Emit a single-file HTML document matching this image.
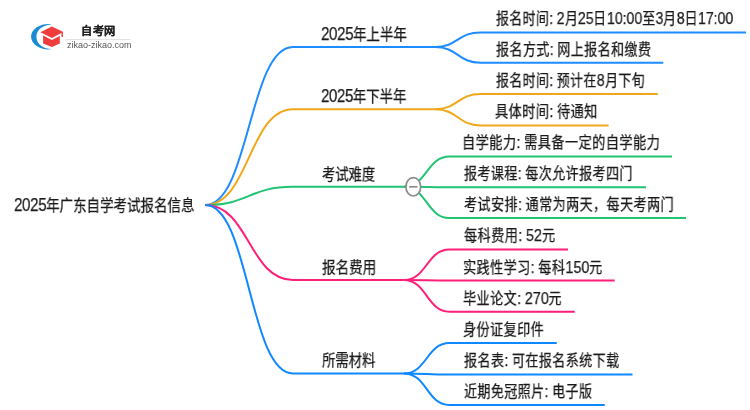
<!DOCTYPE html>
<html lang="zh-CN"><head><meta charset="utf-8"><style>
html,body{margin:0;padding:0;background:#fff;width:750px;height:410px;overflow:hidden;position:relative}
body{font-family:"Liberation Sans",sans-serif;color:#222}
.lines{position:absolute;left:0;top:0}
.lines path{fill:none;stroke-width:2.0;stroke-linecap:butt}
.t{position:absolute;white-space:nowrap;line-height:1;transform-origin:0 0;will-change:transform;color:#1a1a1a;-webkit-text-stroke:0.25px #1a1a1a}
</style></head><body>
<svg class="lines" width="750" height="410" viewBox="0 0 750 410"><path d="M205.20 205.00C249.10 205.00 249.10 47.00 293.00 47.00L435.00 47.00" stroke="#1e8cff"/><path d="M435.00 47.00C457.75 47.00 457.75 32.40 480.50 32.40L746.00 32.40" stroke="#1e8cff"/><path d="M435.00 47.00C457.75 47.00 457.75 62.70 480.50 62.70L663.30 62.70" stroke="#1e8cff"/><path d="M205.20 205.00C249.10 205.00 249.10 109.20 293.00 109.20L435.00 109.20" stroke="#f0a81a"/><path d="M435.00 109.20C457.75 109.20 457.75 94.00 480.50 94.00L657.80 94.00" stroke="#f0a81a"/><path d="M435.00 109.20C457.75 109.20 457.75 125.40 480.50 125.40L608.60 125.40" stroke="#f0a81a"/><path d="M205.20 205.00C249.10 205.00 249.10 186.80 293.00 186.80L404.00 186.80" stroke="#20c473"/><path d="M404.00 186.80C426.75 186.80 426.75 156.50 449.50 156.50L672.00 156.50" stroke="#20c473"/><path d="M404.00 186.80C426.75 186.80 426.75 187.20 449.50 187.20L646.00 187.20" stroke="#20c473"/><path d="M404.00 186.80C426.75 186.80 426.75 218.10 449.50 218.10L686.00 218.10" stroke="#20c473"/><path d="M205.20 205.00C249.10 205.00 249.10 280.00 293.00 280.00L404.00 280.00" stroke="#ff1f7a"/><path d="M404.00 280.00C426.75 280.00 426.75 249.50 449.50 249.50L568.00 249.50" stroke="#ff1f7a"/><path d="M404.00 280.00C426.75 280.00 426.75 280.60 449.50 280.60L614.70 280.60" stroke="#ff1f7a"/><path d="M404.00 280.00C426.75 280.00 426.75 311.70 449.50 311.70L574.70 311.70" stroke="#ff1f7a"/><path d="M205.20 205.00C249.10 205.00 249.10 373.40 293.00 373.40L404.00 373.40" stroke="#0f87ff"/><path d="M404.00 373.40C426.75 373.40 426.75 343.10 449.50 343.10L556.80 343.10" stroke="#0f87ff"/><path d="M404.00 373.40C426.75 373.40 426.75 374.40 449.50 374.40L632.50 374.40" stroke="#0f87ff"/><path d="M404.00 373.40C426.75 373.40 426.75 405.00 449.50 405.00L604.80 405.00" stroke="#0f87ff"/><ellipse cx="413.3" cy="186.8" rx="7.4" ry="9.2" fill="#fff" stroke="#8a8a8a" stroke-width="1.7"/><line x1="409.1" y1="186.8" x2="417.5" y2="186.8" stroke="#8a8a8a" stroke-width="1.6"/></svg>
<div class="t" style="left:495.50px;top:10.30px;font-size:15.5px;transform:scaleX(0.8312)">报名时间<span style="font-size:17px;letter-spacing:0px">:</span> <span style="font-size:17px;letter-spacing:0px">2</span>月<span style="font-size:17px;letter-spacing:0px">25</span>日<span style="font-size:17px;letter-spacing:0px">10:00</span>至<span style="font-size:17px;letter-spacing:0px">3</span>月<span style="font-size:17px;letter-spacing:0px">8</span>日<span style="font-size:17px;letter-spacing:0px">17:00</span></div>
<div class="t" style="left:495.50px;top:40.60px;font-size:15.5px;transform:scaleX(0.8397)">报名方式<span style="font-size:17px;letter-spacing:0px">:</span> 网上报名和缴费</div>
<div class="t" style="left:321.16px;top:24.70px;font-size:16.0px;transform:scaleX(0.8416)"><span style="font-size:18px;letter-spacing:-0.45px">2025</span>年上半年</div>
<div class="t" style="left:495.60px;top:71.90px;font-size:15.5px;transform:scaleX(0.8326)">报名时间<span style="font-size:17px;letter-spacing:0px">:</span> 预计在<span style="font-size:17px;letter-spacing:0px">8</span>月下旬</div>
<div class="t" style="left:494.75px;top:103.30px;font-size:15.5px;transform:scaleX(0.8492)">具体时间<span style="font-size:17px;letter-spacing:0px">:</span> 待通知</div>
<div class="t" style="left:321.16px;top:86.90px;font-size:16.0px;transform:scaleX(0.8366)"><span style="font-size:18px;letter-spacing:-0.45px">2025</span>年下半年</div>
<div class="t" style="left:462.30px;top:134.40px;font-size:15.5px;transform:scaleX(0.8507)">自学能力<span style="font-size:17px;letter-spacing:0px">:</span> 需具备一定的自学能力</div>
<div class="t" style="left:464.00px;top:165.10px;font-size:15.5px;transform:scaleX(0.8400)">报考课程<span style="font-size:17px;letter-spacing:0px">:</span> 每次允许报考四门</div>
<div class="t" style="left:464.00px;top:196.00px;font-size:15.5px;transform:scaleX(0.8435)">考试安排<span style="font-size:17px;letter-spacing:0px">:</span> 通常为两天，每天考两门</div>
<div class="t" style="left:322.40px;top:166.50px;font-size:16.0px;transform:scaleX(0.8297)">考试难度</div>
<div class="t" style="left:464.00px;top:227.40px;font-size:15.5px;transform:scaleX(0.8477)">每科费用<span style="font-size:17px;letter-spacing:0px">:</span> <span style="font-size:17px;letter-spacing:0px">52</span>元</div>
<div class="t" style="left:463.15px;top:258.50px;font-size:15.5px;transform:scaleX(0.8460)">实践性学习<span style="font-size:17px;letter-spacing:0px">:</span> 每科<span style="font-size:17px;letter-spacing:0px">150</span>元</div>
<div class="t" style="left:463.15px;top:289.60px;font-size:15.5px;transform:scaleX(0.8461)">毕业论文<span style="font-size:17px;letter-spacing:0px">:</span> <span style="font-size:17px;letter-spacing:0px">270</span>元</div>
<div class="t" style="left:322.40px;top:259.70px;font-size:16.0px;transform:scaleX(0.8460)">报名费用</div>
<div class="t" style="left:463.15px;top:322.00px;font-size:15.5px;transform:scaleX(0.8457)">身份证复印件</div>
<div class="t" style="left:464.00px;top:352.30px;font-size:15.5px;transform:scaleX(0.8408)">报名表<span style="font-size:17px;letter-spacing:0px">:</span> 可在报名系统下载</div>
<div class="t" style="left:464.00px;top:382.90px;font-size:15.5px;transform:scaleX(0.8388)">近期免冠照片<span style="font-size:17px;letter-spacing:0px">:</span> 电子版</div>
<div class="t" style="left:322.40px;top:353.10px;font-size:16.0px;transform:scaleX(0.8328)">所需材料</div>
<div class="t" style="left:14.36px;top:196.00px;font-size:16.0px;transform:scaleX(0.8434)"><span style="font-size:18px;letter-spacing:-0.45px">2025</span>年广东自学考试报名信息</div>
<svg style="position:absolute;left:0;top:0" width="140" height="60" viewBox="0 0 140 60">
<path d="M51.6 24.5C44 22.6 31.1 27.5 31.1 36.8C31.1 46.1 44 51.1 51.6 49.1C44 49 36.4 44.5 36.4 36.8C36.4 29.1 44 24.6 51.6 24.5Z" fill="#1a8bd3"/>
<path d="M40.4 32.2L51.9 26.6L62.9 31.8L62.9 37L61.5 37L61.5 33L51.9 37.9Z" fill="#f03c3c"/>
<path d="M43.1 35.6L51.9 39.9L59.8 35.9L59.8 43.4L51.9 47L43.1 43.4Z" fill="#f03c3c"/>
<line x1="65.8" y1="39.5" x2="130.6" y2="39.5" stroke="#e2e2e2" stroke-width="1"/>
</svg>
<div style="position:absolute;will-change:transform;left:81px;top:26.2px;font-size:11.2px;line-height:1;font-weight:bold;color:#222;-webkit-text-stroke:0.15px #222;letter-spacing:0.6px;white-space:nowrap">自考网</div>
<div id="zk" style="position:absolute;will-change:transform;left:67px;top:41px;font-size:9px;line-height:1;color:#555;white-space:nowrap;transform-origin:0 0">zikao-zikao.com</div>
</body></html>
